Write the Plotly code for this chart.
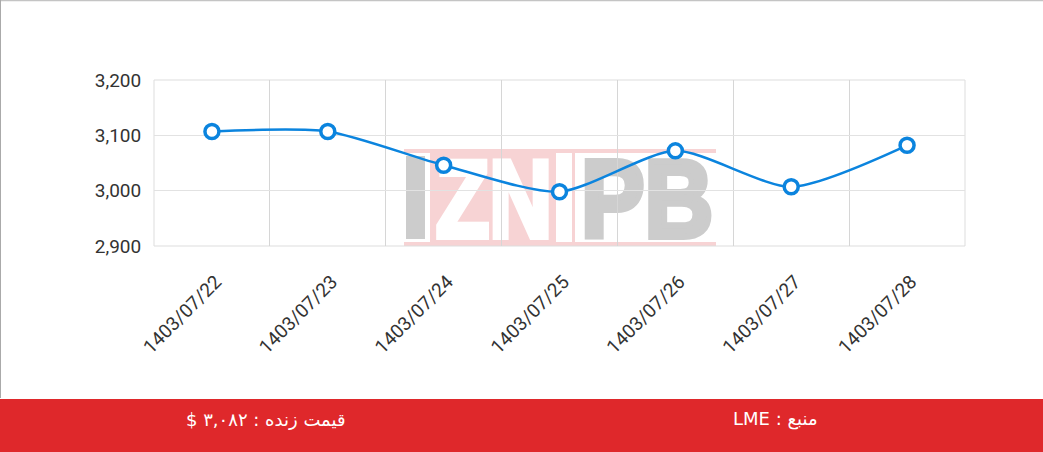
import base64
import plotly.graph_objects as go

dates = ["1403/07/22", "1403/07/23", "1403/07/24", "1403/07/25",
         "1403/07/26", "1403/07/27", "1403/07/28"]
prices = [3107, 3107, 3046, 2998, 3072, 3007, 3082]
y_ticks = [2900, 3000, 3100, 3200]
live_label = "قیمت زنده : ۳,۰۸۲ $"
source_label = "منبع : LME"

W, H = 1043, 452
L, R, T, B = 154, 965, 80, 246


def px(x):
    return (x - L) / (R - L)


def py(y):
    return (B - y) / (B - T)


def rtl(s):
    return "\u202B" + s + "\u202C"


# watermark logo as an SVG image (drawn beneath the data)
logo_svg = """<svg xmlns="http://www.w3.org/2000/svg" width="312" height="97" viewBox="0 0 312 97">
<rect x="0" y="0" width="312" height="4" fill="#f7d3d4"/>
<rect x="0" y="93" width="312" height="4" fill="#f7d3d4"/>
<rect x="26" y="0" width="126" height="97" fill="#f7d3d4"/>
<rect x="168" y="0" width="3" height="97" fill="#f7d3d4"/>
<rect x="2" y="7" width="19" height="83" fill="#cccccc"/>
<text x="32" y="88" font-family="Liberation Sans, Arial, sans-serif" font-weight="bold" font-size="110" fill="#ffffff" stroke="#ffffff" stroke-width="6" stroke-linejoin="miter" textLength="116" lengthAdjust="spacingAndGlyphs">ZN</text>
<text x="177" y="88" font-family="Liberation Sans, Arial, sans-serif" font-weight="bold" font-size="110" fill="#cccccc" stroke="#cccccc" stroke-width="6" stroke-linejoin="miter" textLength="132" lengthAdjust="spacingAndGlyphs">PB</text>
</svg>"""
logo_src = "data:image/svg+xml;base64," + base64.b64encode(logo_svg.encode()).decode()

fig = go.Figure()
fig.add_trace(go.Scatter(
    x=dates, y=prices, mode="lines+markers",
    line=dict(color="#0b84de", width=2.5, shape="spline", smoothing=0.7),
    marker=dict(size=14, color="white", line=dict(color="#0b84de", width=3.5)),
    cliponaxis=False, showlegend=False,
))

shapes = [
    # plot frame
    dict(type="rect", xref="paper", yref="paper", layer="below",
         x0=0, x1=1, y0=0, y1=1, line=dict(color="#dddddd", width=1)),
    # bottom red bar
    dict(type="rect", xref="paper", yref="paper", layer="above",
         x0=px(0), x1=px(W), y0=py(W), y1=py(399),
         fillcolor="#df282b", line_width=0),
    # card border
    dict(type="line", xref="paper", yref="paper",
         x0=px(0), x1=px(W), y0=py(0.5), y1=py(0.5),
         line=dict(color="#c4c4c4", width=1.5)),
    dict(type="line", xref="paper", yref="paper",
         x0=px(0.5), x1=px(0.5), y0=py(0), y1=py(398),
         line=dict(color="#aaaaaa", width=1)),
]

annotations = [
    dict(text=rtl(live_label), xref="paper", yref="paper", x=px(266), y=py(419),
         showarrow=False, font=dict(family="DejaVu Sans", size=18, color="white"),
         xanchor="center", yanchor="middle"),
    dict(text=rtl(source_label), xref="paper", yref="paper", x=px(775), y=py(419),
         showarrow=False, font=dict(family="DejaVu Sans", size=18, color="white"),
         xanchor="center", yanchor="middle"),
]

images = [dict(source=logo_src, xref="paper", yref="paper",
               x=px(404), y=py(149), sizex=(716 - 404) / (R - L),
               sizey=(246 - 149) / (B - T), sizing="stretch",
               xanchor="left", yanchor="top", layer="below", opacity=1)]

fig.update_layout(
    width=W, height=H,
    margin=dict(l=L, r=W - R, t=T, b=H - B, autoexpand=False),
    paper_bgcolor="white", plot_bgcolor="rgba(0,0,0,0)",
    shapes=shapes, annotations=annotations, images=images,
    font=dict(family="Roboto", color="#333333"),
    xaxis=dict(type="category", tickson="boundaries", showgrid=True,
               gridcolor="#d6d6d6", gridwidth=1, tickangle=-45,
               ticks="", tickfont=dict(size=19, color="#333333"),
               ticklabelshift=4, ticklabelstandoff=20,
               showline=False, zeroline=False, range=[-0.5, len(dates) - 0.5]),
    yaxis=dict(range=[y_ticks[0], y_ticks[-1]], tickvals=y_ticks,
               tickformat=",", showgrid=True, gridcolor="#e2e2e2",
               ticks="outside", ticklen=8, tickcolor="white",
               tickfont=dict(size=19, color="#333333"),
               zeroline=False, showline=False),
)

fig.write_html("out.html", config={"displayModeBar": False},
               post_script="document.body.style.margin='0';")
